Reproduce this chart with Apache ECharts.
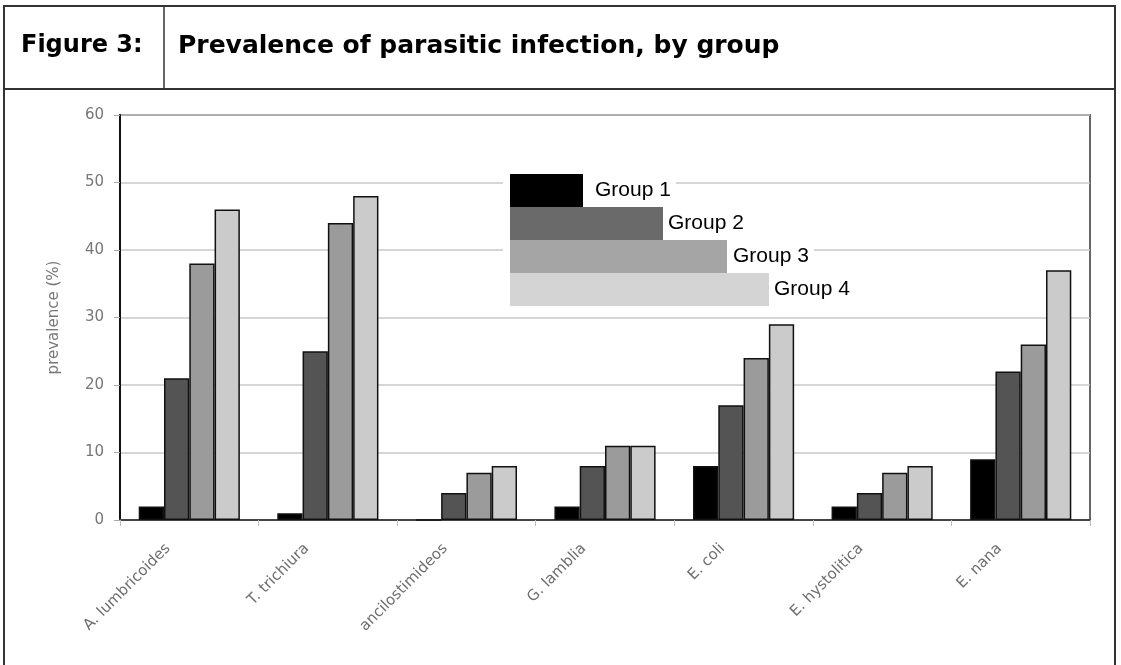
<!DOCTYPE html>
<html>
<head>
<meta charset="utf-8">
<script src="https://cdn.jsdelivr.net/npm/echarts@6/dist/echarts.min.js"></script>
<style>
  html, body { margin: 0; padding: 0; background: #fff; }
  #chart { width: 1121px; height: 665px; }
</style>
</head>
<body>
<div id="chart"></div>
<script>
// data
const categories = ['A. lumbricoides', 'T. trichiura', 'ancilostimideos', 'G. lamblia', 'E. coli', 'E. hystolitica', 'E. nana'];
const group1 = [2, 1, 0, 2, 8, 2, 9];
const group2 = [21, 25, 4, 8, 17, 4, 22];
const group3 = [38, 44, 7, 11, 24, 7, 26];
const group4 = [46, 48, 8, 11, 29, 8, 37];
const groupNames = ['Group 1', 'Group 2', 'Group 3', 'Group 4'];
const yTicks = [0, 10, 20, 30, 40, 50, 60];

const chart = echarts.init(document.getElementById('chart'));

const barColors = ['#000000', '#545454', '#9b9b9b', '#cbcbcb'];
const keyColors = ['#000000', '#6a6a6a', '#a5a5a5', '#d4d4d4'];

// the key in the picture is a stack of grey blocks of growing length
const makeLegend = (i, width, top, textPad) => ({
    data: [groupNames[i]],
    left: 503,
    top: top,
    orient: 'horizontal',
    padding: [0, 5, 0, 7],
    backgroundColor: '#fff',
    icon: 'rect',
    itemWidth: width,
    itemHeight: 33,
    selectedMode: false,
    itemStyle: { color: keyColors[i], borderWidth: 0 },
    textStyle: {
        fontFamily: 'Liberation Sans, Arial',
        fontSize: 21,
        color: '#000',
        padding: [0, 0, 0, textPad]
    }
});

const makeSeries = (i, values) => ({
    name: groupNames[i],
    type: 'bar',
    data: values,
    barGap: '0%',
    barCategoryGap: '27%',
    itemStyle: { color: barColors[i], borderColor: '#111', borderWidth: 1.5 }
});

const option = {
    animation: false,
    backgroundColor: '#fff',
    title: [
        {
            text: 'Figure 3:',
            left: 21, top: 34, padding: 0,
            textStyle: { fontFamily: 'DejaVu Sans', fontWeight: 'bold', fontSize: 24, color: '#000' }
        },
        {
            text: 'Prevalence of parasitic infection, by group',
            left: 178, top: 34, padding: 0,
            textStyle: { fontFamily: 'DejaVu Sans', fontWeight: 'bold', fontSize: 25, color: '#000' }
        }
    ],
    graphic: [
        { type: 'rect', shape: { x: 4, y: 6, width: 1111, height: 700 }, style: { fill: 'none', stroke: '#333', lineWidth: 2 }, silent: true },
        { type: 'line', shape: { x1: 4, y1: 89, x2: 1115, y2: 89 }, style: { stroke: '#333', lineWidth: 2 }, silent: true },
        { type: 'line', shape: { x1: 164, y1: 6, x2: 164, y2: 89 }, style: { stroke: '#333', lineWidth: 1.5 }, silent: true }
    ],
    legend: [
        makeLegend(0, 73, 174, 7),
        makeLegend(1, 153, 207, 0),
        makeLegend(2, 217, 240, 1),
        makeLegend(3, 259, 273, 0)
    ],
    grid: {
        left: 120, right: 31, top: 115, bottom: 145,
        show: true, borderColor: '#666', borderWidth: 2, backgroundColor: '#fff'
    },
    xAxis: {
        type: 'category',
        data: categories,
        axisLine: { lineStyle: { color: '#444', width: 2 } },
        axisTick: { show: true, length: 6, lineStyle: { color: '#bbb' } },
        axisLabel: {
            rotate: 45,
            margin: 5,
            padding: [0, 30, 0, 0],
            fontFamily: 'DejaVu Sans',
            fontSize: 15,
            color: '#6e6e6e'
        }
    },
    yAxis: {
        type: 'value',
        min: yTicks[0],
        max: yTicks[yTicks.length - 1],
        interval: yTicks[1] - yTicks[0],
        name: 'prevalence (%)',
        nameLocation: 'middle',
        nameGap: 58,
        nameTextStyle: { fontFamily: 'DejaVu Sans', fontSize: 15, color: '#777' },
        axisLine: { show: true, lineStyle: { color: '#111', width: 2 } },
        axisTick: { show: true, length: 6, lineStyle: { color: '#aaa' } },
        axisLabel: { margin: 16, fontFamily: 'DejaVu Sans', fontSize: 15, color: '#777' },
        splitLine: { lineStyle: { color: '#c8c8c8', width: 1.5 } }
    },
    series: [
        makeSeries(0, group1),
        makeSeries(1, group2),
        makeSeries(2, group3),
        makeSeries(3, group4)
    ]
};

chart.setOption(option);
</script>
</body>
</html>
